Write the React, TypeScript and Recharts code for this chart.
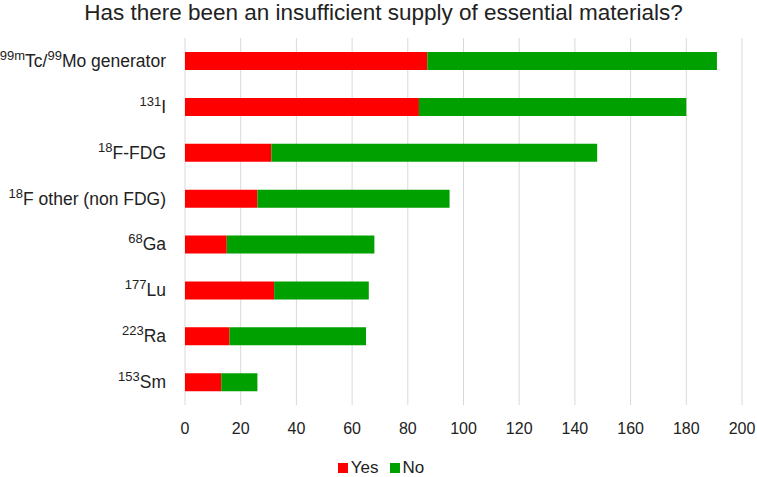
import { BarChart, Bar, XAxis, YAxis, CartesianGrid, Legend } from "recharts";

// ---------------------------------------------------------------------------
// Data
// ---------------------------------------------------------------------------

const isotopes = [
  "99mTc/99Mo generator",
  "131I",
  "18F-FDG",
  "18F other (non FDG)",
  "68Ga",
  "177Lu",
  "223Ra",
  "153Sm",
];

// label pieces, sup = superscript mass number
const isotopeLabels: { t: string; sup?: boolean }[][] = [
  [{ t: "99m", sup: true }, { t: "Tc/" }, { t: "99", sup: true }, { t: "Mo generator" }],
  [{ t: "131", sup: true }, { t: "I" }],
  [{ t: "18", sup: true }, { t: "F-FDG" }],
  [{ t: "18", sup: true }, { t: "F other (non FDG)" }],
  [{ t: "68", sup: true }, { t: "Ga" }],
  [{ t: "177", sup: true }, { t: "Lu" }],
  [{ t: "223", sup: true }, { t: "Ra" }],
  [{ t: "153", sup: true }, { t: "Sm" }],
];

const yesCounts = [87, 84, 31, 26, 15, 32, 16, 13];
const noCounts = [104, 96, 117, 69, 53, 34, 49, 13];

const xTicks = [0, 20, 40, 60, 80, 100, 120, 140, 160, 180, 200];

const seriesNames = ["Yes", "No"];
const seriesColors = ["#FF0000", "#00A000"];

const data = isotopes.map((name, i) => ({
  name,
  yes: yesCounts[i],
  no: noCounts[i],
}));

const FONT = "'Liberation Sans', Arial, sans-serif";
const TEXT = "#222";

// ---------------------------------------------------------------------------
// Ticks / legend
// ---------------------------------------------------------------------------

function IsotopeTick({ y, payload }: any) {
  const idx = isotopes.indexOf(payload.value);
  const parts = isotopeLabels[idx] ?? [{ t: payload.value }];
  let raised = false;
  return (
    <text x={166} y={y + 6} textAnchor="end" fontFamily={FONT} fontSize={17.5} fill={TEXT}>
      {parts.map((p, i) => {
        let dy = 0;
        if (p.sup && !raised) {
          dy = -7;
          raised = true;
        } else if (!p.sup && raised) {
          dy = 7;
          raised = false;
        }
        return (
          <tspan key={i} dy={dy} fontSize={p.sup ? 13 : 17.5}>
            {p.t}
          </tspan>
        );
      })}
    </text>
  );
}

function CountTick({ x, y, payload }: any) {
  return (
    <text x={x} y={y} dy={21} textAnchor="middle" fontFamily={FONT} fontSize={16} fill={TEXT}>
      {payload.value}
    </text>
  );
}

function LegendBox() {
  return (
    <div
      style={{
        display: "flex",
        justifyContent: "center",
        alignItems: "center",
        fontFamily: FONT,
        fontSize: 17,
        color: TEXT,
        paddingLeft: 16,
      }}
    >
      {seriesNames.map((s, i) => (
        <span key={s} style={{ display: "flex", alignItems: "center", marginRight: 11 }}>
          <span
            style={{
              width: 10,
              height: 10,
              background: seriesColors[i],
              display: "inline-block",
              marginRight: 3,
            }}
          />
          {s}
        </span>
      ))}
    </div>
  );
}

// ---------------------------------------------------------------------------
// Chart
// ---------------------------------------------------------------------------

export default function App() {
  return (
    <div style={{ position: "absolute", left: 0, top: 0, width: 757, height: 477, background: "#fff" }}>
      <div
        style={{
          position: "absolute",
          top: 0,
          left: 0,
          width: 757,
          textAlign: "center",
          fontFamily: FONT,
          fontSize: 22.5,
          color: TEXT,
          paddingLeft: 10,
          boxSizing: "border-box",
          whiteSpace: "nowrap",
        }}
      >
        Has there been an insufficient supply of essential materials?
      </div>
      <BarChart
        width={757}
        height={477}
        data={data}
        layout="vertical"
        margin={{ top: 38, right: 15, bottom: 42, left: 0 }}
      >
        <CartesianGrid horizontal={false} vertical stroke="#d9d9d9" />
        <XAxis
          type="number"
          domain={[0, 200]}
          ticks={xTicks}
          axisLine={false}
          tickLine={false}
          tick={<CountTick />}
          interval={0}
          height={30}
        />
        <YAxis
          type="category"
          dataKey="name"
          width={185}
          axisLine={false}
          tickLine={false}
          tick={<IsotopeTick />}
          interval={0}
        />
        <Legend
          layout="horizontal"
          verticalAlign="middle"
          align="center"
          content={<LegendBox />}
          wrapperStyle={{ position: "absolute", top: 458, left: 0, width: 757 }}
        />
        <Bar dataKey="yes" name={seriesNames[0]} stackId="s" fill={seriesColors[0]} barSize={18} isAnimationActive={false} />
        <Bar dataKey="no" name={seriesNames[1]} stackId="s" fill={seriesColors[1]} barSize={18} isAnimationActive={false} />
      </BarChart>
    </div>
  );
}
